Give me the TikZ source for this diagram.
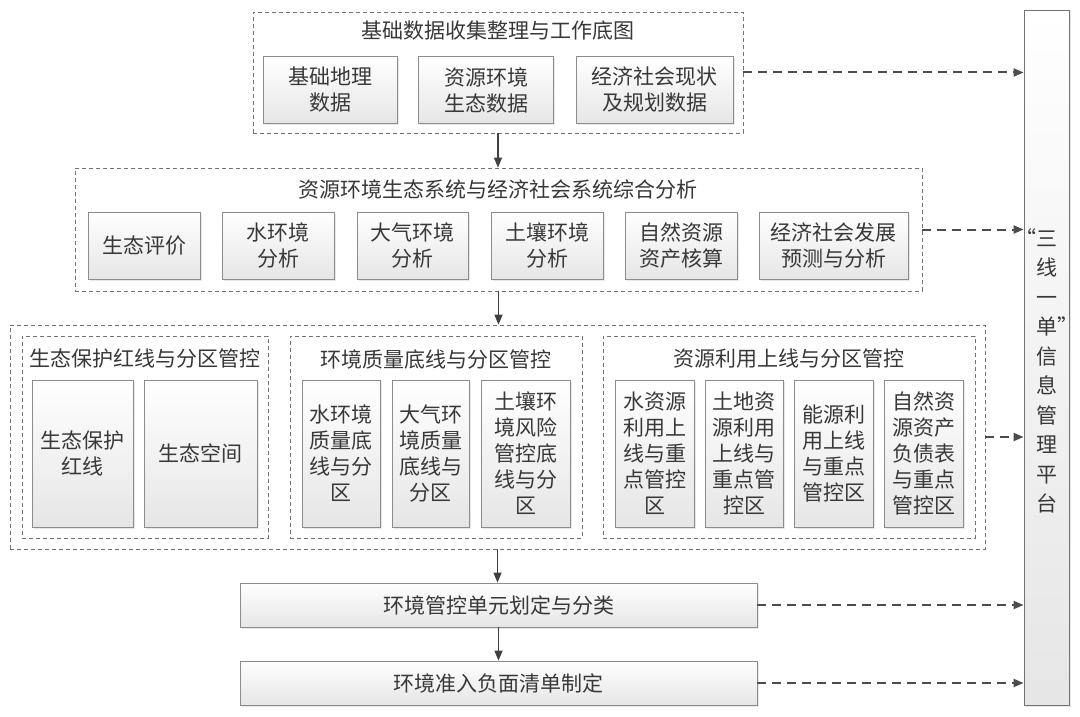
\documentclass[tikz,border=0pt]{standalone}
\usepackage{fontspec}
\newfontfamily\cjk{Noto Sans CJK SC}
\usetikzlibrary{shadows,arrows.meta}
\begin{document}
\begin{tikzpicture}[x=1pt,y=-1pt,
 txt/.style={font=\cjk\fontsize{21}{26}\selectfont, text=black!78},
 box/.style={txt, draw=black!45, line width=0.8pt, top color=white, bottom color=black!10, align=center, inner sep=0pt,
   drop shadow={opacity=0.18, shadow xshift=1.5pt, shadow yshift=-1.5pt}},
 grp/.style={draw=black!55, line width=0.8pt, dash pattern=on 4pt off 3pt, inner sep=0pt},
 arr/.style={draw=black!75, line width=1.2pt, -{Triangle[length=10pt,width=8pt]}},
 darr/.style={draw=black!70, line width=2pt, dash pattern=on 9pt off 6pt, -{Triangle[length=10pt,width=8pt]}},
]
\fill[white] (0,0) rectangle (1080,717);
\useasboundingbox (0,0) rectangle (1080,717);

% platform
\node[box, draw=black!55, minimum width=45pt, minimum height=695pt] (p) at (1046.5,357.5) {};
\node[txt, align=center, font=\cjk\fontsize{21}{29.5}\selectfont, inner sep=0pt] (pt) at (1046.5,371)
  {\llap{“}三\\线\\一\\单\rlap{”}\\信\\息\\管\\理\\平\\台};

% group 1
\node[grp, minimum width=490pt, minimum height=121pt] (g1) at (498,72.5) {};
\node[txt] (t1) at (498,31) {基础数据收集整理与工作底图};
\node[box, minimum width=134pt, minimum height=67pt] (b11) at (330,90) {基础地理\\数据};
\node[box, minimum width=135pt, minimum height=67pt] (b12) at (486,90) {资源环境\\生态数据};
\node[box, minimum width=157pt, minimum height=67pt] (b13) at (654.5,90) {经济社会现状\\及规划数据};

% group 2
\node[grp, minimum width=847pt, minimum height=123pt] (g2) at (498.5,229.5) {};
\node[txt] (t2) at (498,189) {资源环境生态系统与经济社会系统综合分析};
\node[box, minimum width=112pt, minimum height=67pt] (b21) at (144,245.5) {生态评价};
\node[box, minimum width=112pt, minimum height=67pt] (b22) at (278,245.5) {水环境\\分析};
\node[box, minimum width=111pt, minimum height=67pt] (b23) at (412.5,245.5) {大气环境\\分析};
\node[box, minimum width=112pt, minimum height=67pt] (b24) at (547,245.5) {土壤环境\\分析};
\node[box, minimum width=112pt, minimum height=67pt] (b25) at (681,245.5) {自然资源\\资产核算};
\node[box, minimum width=149pt, minimum height=67pt] (b26) at (833.5,245.5) {经济社会发展\\预测与分析};

% group 3
\node[grp, minimum width=975pt, minimum height=224pt] (g3) at (497.5,437) {};
\node[grp, minimum width=246pt, minimum height=202pt] (s1) at (145,437) {};
\node[grp, minimum width=292pt, minimum height=202pt] (s2) at (436,437) {};
\node[grp, minimum width=372pt, minimum height=202pt] (s3) at (789,437) {};
\node[txt] (ts1) at (145,359) {生态保护红线与分区管控};
\node[txt] (ts2) at (436,359) {环境质量底线与分区管控};
\node[txt] (ts3) at (789,359) {资源利用上线与分区管控};

\node[box, minimum width=101pt, minimum height=147pt] (b31) at (82.5,453.5) {生态保护\\红线};
\node[box, minimum width=113pt, minimum height=147pt] (b32) at (200.5,453.5) {生态空间};
\node[box, minimum width=78pt, minimum height=147pt] (b33) at (341,453.5) {水环境\\质量底\\线与分\\区};
\node[box, minimum width=77pt, minimum height=147pt] (b34) at (430.5,453.5) {大气环\\境质量\\底线与\\分区};
\node[box, minimum width=89pt, minimum height=147pt] (b35) at (525.5,453.5) {土壤环\\境风险\\管控底\\线与分\\区};
\node[box, minimum width=79pt, minimum height=147pt] (b36) at (654.5,453.5) {水资源\\利用上\\线与重\\点管控\\区};
\node[box, minimum width=78pt, minimum height=147pt] (b37) at (744,453.5) {土地资\\源利用\\上线与\\重点管\\控区};
\node[box, minimum width=79pt, minimum height=147pt] (b38) at (833.5,453.5) {能源利\\用上线\\与重点\\管控区};
\node[box, minimum width=79pt, minimum height=147pt] (b39) at (923.5,453.5) {自然资\\源资产\\负债表\\与重点\\管控区};

% bottom boxes
\node[box, minimum width=517pt, minimum height=44pt] (b4) at (498.5,605) {环境管控单元划定与分类};
\node[box, minimum width=517pt, minimum height=44pt] (b5) at (498.5,683) {环境准入负面清单制定};

% solid arrows
\draw[arr] (g1.south) -- (g1.south |- g2.north);
\draw[arr] (g2.south) -- (g2.south |- g3.north);
\draw[arr] (g3.south) -- (g3.south |- b4.north);
\draw[arr] (b4.south) -- (b4.south |- b5.north);

% dashed arrows
\draw[darr] (g1.east) -- (g1.east -| p.west);
\draw[darr] (g2.east) -- (g2.east -| p.west);
\draw[darr] (g3.east) -- (g3.east -| p.west);
\draw[darr] (b4.east) -- (b4.east -| p.west);
\draw[darr] (b5.east) -- (b5.east -| p.west);
\end{tikzpicture}
\end{document}
